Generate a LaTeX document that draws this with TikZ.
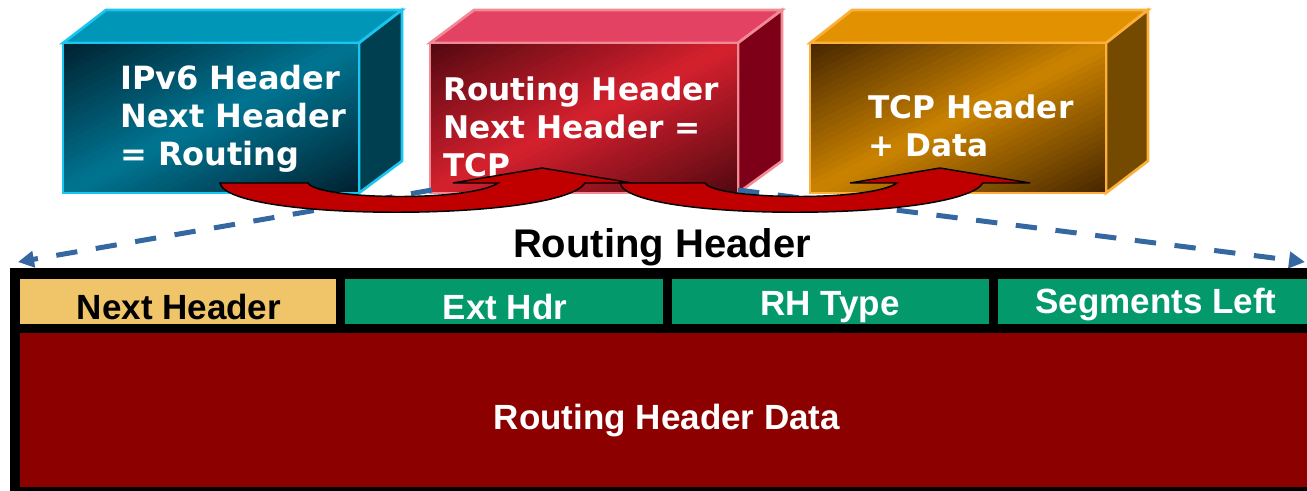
\documentclass[tikz,border=0pt]{standalone}
\usepackage{fontspec}
\setmainfont{Liberation Sans}
\newfontfamily\vfont{DejaVu Sans}
\usetikzlibrary{arrows.meta}
\definecolor{bluedark}{HTML}{00202F}
\definecolor{bluelight}{HTML}{007592}
\definecolor{bluetop}{HTML}{0096B8}
\definecolor{blueside}{HTML}{003F50}
\definecolor{blueedge}{HTML}{1AC6F0}
\definecolor{reddark}{HTML}{520810}
\definecolor{redlight}{HTML}{D6202E}
\definecolor{redtop}{HTML}{E44262}
\definecolor{redside}{HTML}{7E0018}
\definecolor{rededge}{HTML}{F28A96}
\definecolor{ordark}{HTML}{452500}
\definecolor{orlight}{HTML}{CC8400}
\definecolor{ortop}{HTML}{E29200}
\definecolor{orside}{HTML}{744A00}
\definecolor{oredge}{HTML}{FBB03B}
\definecolor{arrowred}{HTML}{C00000}
\definecolor{dashblue}{HTML}{3568A0}
\definecolor{tan}{HTML}{F0C468}
\definecolor{fieldgreen}{HTML}{03996B}
\definecolor{datared}{HTML}{8C0000}
\tikzset{
  faceedge/.style={line width=2pt, line join=miter},
  boxtext/.style={font=\vfont\bfseries\fontsize{23.4}{28.5}\selectfont, text=white, align=left, inner sep=0pt, anchor=base west},
  tabtext/.style={font=\bfseries\fontsize{26.25}{30}\selectfont, inner sep=0pt, anchor=base},
  redarrow/.style={fill=arrowred, draw=black, line width=1.1pt, line join=miter},
  dasharrow/.style={draw=dashblue, line width=3.75pt, dash pattern=on 16pt off 14pt, -{Triangle[length=12pt,width=12pt]}},
}
% diagonal dark-light-dark gradient face: x0 y0 W H dark light
\newcommand\gradface[6]{%
  \begin{scope}
    \clip (#1,#2) rectangle ++(#3,#4);
    \begin{scope}[shift={(#1,#2)}, xscale=#3, yscale=#4]
      \foreach \gi in {0,...,47}{
        \pgfmathsetmacro\grada{\gi/48}
        \pgfmathsetmacro\gradb{(\gi+1.4)/48}
        \pgfmathsetmacro\gradt{100*(1-abs(2*(\gi+0.5)/48-1))}
        \fill[#6!\gradt!#5] (2*\grada+1,-1) -- (-1,2*\grada+1) -- (-1,2*\gradb+1) -- (2*\gradb+1,-1) -- cycle;
      }
    \end{scope}
  \end{scope}}
\begin{document}
\begin{tikzpicture}[x=0.75pt,y=-0.75pt]
\useasboundingbox (0,0) rectangle (1307,491);
\clip (0,0) rectangle (1307,491);

% ---- blue box
\filldraw[faceedge, fill=bluetop, draw=blueedge] (63,43) -- (106,10) -- (402,10) -- (359,43) -- cycle;
\filldraw[faceedge, fill=blueside, draw=blueedge] (359,43) -- (402,10) -- (402,161) -- (359,193) -- cycle;
\gradface{63}{43}{296}{150}{bluedark}{bluelight}
\draw[faceedge, draw=blueedge] (63,43) rectangle (359,193);
\node[boxtext, font=\vfont\bfseries\fontsize{24}{28.5}\selectfont] (ipv6) at (120,166) {IPv6 Header\\Next Header\\= Routing};

% ---- red box
\filldraw[faceedge, fill=redtop, draw=rededge] (430,43) -- (474,10) -- (782,10) -- (738,43) -- cycle;
\filldraw[faceedge, fill=redside, draw=rededge] (738,43) -- (782,10) -- (782,161) -- (738,193) -- cycle;
\gradface{430}{43}{308}{150}{reddark}{redlight}
\draw[faceedge, draw=rededge] (430,43) rectangle (738,193);
\node[boxtext] (rh) at (443,177) {Routing Header\\Next Header =\\TCP};

% ---- orange box
\filldraw[faceedge, fill=ortop, draw=oredge] (810,43) -- (852,10) -- (1148,10) -- (1106,43) -- cycle;
\filldraw[faceedge, fill=orside, draw=oredge] (1106,43) -- (1148,10) -- (1148,161) -- (1106,193) -- cycle;
\gradface{810}{43}{296}{150}{ordark}{orlight}
\draw[faceedge, draw=oredge] (810,43) rectangle (1106,193);
\node[boxtext] (tcp) at (868,157) {TCP Header\\+ Data};

% ---- dashed expansion arrows
\coordinate (rhbl) at (432,190);
\coordinate (rhbr) at (738,190);
\coordinate (tl) at (18,262);
\coordinate (tr) at (1305,262);
\draw[dasharrow] (rhbl) -- (tl);
\draw[dasharrow] (rhbr) -- (tr);

% ---- red curved arrows
\path[redarrow] (220,183) -- (308,183) .. controls (318,200) and (470,202) .. (498,183)
  -- (453,183) -- (542,168) -- (632,183) -- (585,183)
  .. controls (560,222) and (228,222) .. (220,183) -- cycle;
\path[redarrow] (620,183) -- (705,183) .. controls (715,200) and (870,202) .. (897,183)
  -- (850,183) -- (940,168) -- (1030,183) -- (983,183)
  .. controls (958,222) and (628,222) .. (620,183) -- cycle;

% ---- title
\node[tabtext, font=\bfseries\fontsize{30}{34}\selectfont] (title) at (662,258) {Routing Header};

% ---- header layout
\fill[black] (10,268) rectangle (1330,491);
\fill[tan] (20,279) rectangle (336,324);
\fill[fieldgreen] (345,279) rectangle (663,324);
\fill[fieldgreen] (672,279) rectangle (989,324);
\fill[fieldgreen] (998,279) rectangle (1330,324);
\fill[datared] (20,333) rectangle (1330,487);

\node[tabtext, text=black] (nh) at (179,320) {Next Header};
\node[tabtext, text=white] (eh) at (505,320) {Ext Hdr};
\node[tabtext, text=white] (rt) at (830,316) {RH Type};
\node[tabtext, text=white] (sl) at (1156,314) {Segments Left};
\node[tabtext, text=white] (rd) at (667,430) {Routing Header Data};
\end{tikzpicture}
\end{document}
